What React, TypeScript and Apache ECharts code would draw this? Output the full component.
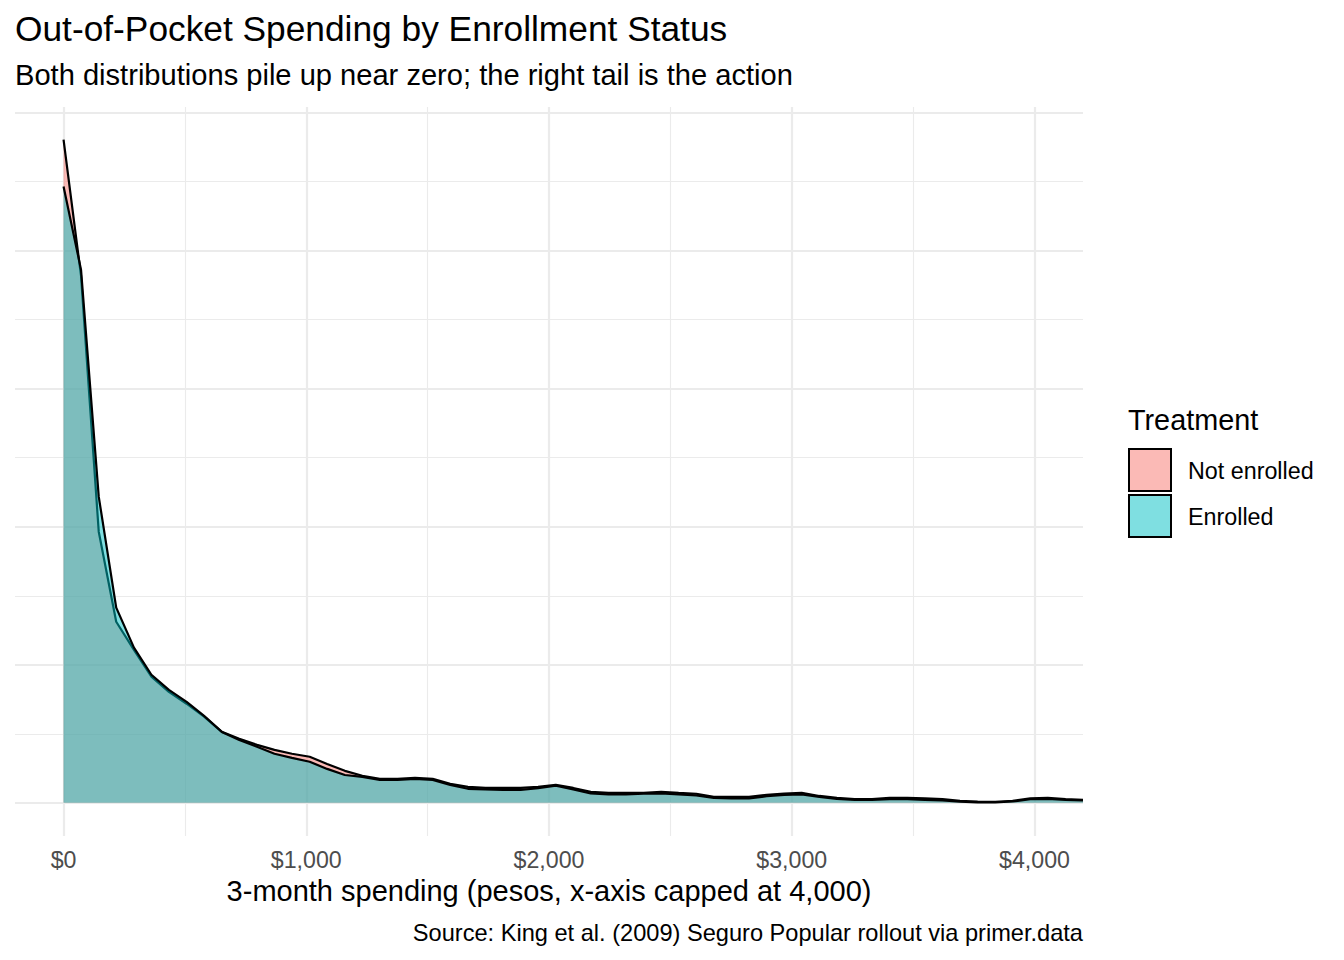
import React, { useEffect, useRef } from "react";
import * as echarts from "echarts";

// 3-month spending grid (pesos) at which the densities are drawn
const spending = [
  0, 72, 145, 217, 290, 362, 434, 507, 579, 652,
  724, 797, 869, 941, 1014, 1086, 1159, 1231, 1303, 1376,
  1448, 1521, 1593, 1666, 1738, 1810, 1883, 1955, 2028, 2100,
  2172, 2245, 2317, 2390, 2462, 2534, 2607, 2679, 2752, 2824,
  2897, 2969, 3041, 3114, 3186, 3259, 3331, 3403, 3476, 3548,
  3621, 3693, 3766, 3838, 3910, 3983, 4055, 4128, 4200,
];

// density values (x 1e-4)
const notEnrolled = [
  24.02, 19.09, 9.82, 6.56, 5.54, 4.57, 4.02, 3.59, 3.12, 2.57,
  2.32, 2.10, 1.92, 1.78, 1.67, 1.41, 1.16, 0.98, 0.87, 0.87,
  0.91, 0.87, 0.69, 0.58, 0.54, 0.54, 0.54, 0.58, 0.65, 0.54,
  0.40, 0.36, 0.36, 0.36, 0.40, 0.36, 0.33, 0.22, 0.22, 0.22,
  0.29, 0.34, 0.36, 0.25, 0.18, 0.14, 0.14, 0.18, 0.18, 0.16,
  0.14, 0.07, 0.05, 0.04, 0.07, 0.16, 0.18, 0.14, 0.11,
];

const enrolled = [
  22.32, 19.31, 11.09, 7.07, 5.62, 4.64, 4.09, 3.66, 3.15, 2.57,
  2.28, 2.03, 1.78, 1.63, 1.49, 1.23, 1.01, 0.94, 0.83, 0.83,
  0.87, 0.83, 0.65, 0.51, 0.49, 0.47, 0.47, 0.53, 0.62, 0.49,
  0.34, 0.31, 0.31, 0.33, 0.34, 0.31, 0.27, 0.18, 0.16, 0.16,
  0.24, 0.29, 0.31, 0.22, 0.14, 0.11, 0.11, 0.13, 0.13, 0.11,
  0.09, 0.04, 0.02, 0.02, 0.05, 0.13, 0.14, 0.11, 0.09,
];

const groups = ["Not enrolled", "Enrolled"];
const xMajor = [0, 1000, 2000, 3000, 4000];
const xMinor = [500, 1500, 2500, 3500];
const yMajor = [0, 5, 10, 15, 20, 25];
const yMinor = [2.5, 7.5, 12.5, 17.5, 22.5];

const FONT = '"Liberation Sans", Arial, Helvetica, sans-serif';
const GRID = "#EBEBEB";
const FILLS = ["rgba(248,118,109,0.5)", "rgba(0,191,196,0.5)"];

export default function App() {
  const ref = useRef<HTMLDivElement>(null);

  useEffect(() => {
    if (!ref.current) return;
    const chart = echarts.init(ref.current, undefined, { renderer: "svg" });

    const gridLines = [
      ...xMinor.map((v) => ({ xAxis: v, lineStyle: { color: GRID, width: 1.1, type: "solid" } })),
      ...yMinor.map((v) => ({ yAxis: v, lineStyle: { color: GRID, width: 1.1, type: "solid" } })),
      ...xMajor.map((v) => ({ xAxis: v, lineStyle: { color: GRID, width: 2.2, type: "solid" } })),
      ...yMajor.map((v) => ({ yAxis: v, lineStyle: { color: GRID, width: 2.2, type: "solid" } })),
    ];

    const makeSeries = (name: string, vals: number[], fill: string, z: number) => ({
      name,
      type: "line",
      data: spending.map((x, i) => [x, vals[i]]),
      showSymbol: false,
      symbol: "none",
      smooth: false,
      z,
      silent: true,
      emphasis: { disabled: true },
      lineStyle: { color: "#000000", width: 2.2 },
      areaStyle: { color: fill, opacity: 1 },
    });

    const text = (
      t: string, x: number, y: number, size: number,
      align: string = "left", fill: string = "#000000"
    ) => ({
      type: "text",
      x,
      y,
      silent: true,
      style: {
        text: t,
        fontSize: size,
        fontFamily: FONT,
        fill,
        align,
        verticalAlign: "middle",
      },
    });

    chart.setOption({
      animation: false,
      backgroundColor: "#ffffff",
      grid: { left: 15, right: 261, top: 107, bottom: 124, containLabel: false },
      xAxis: {
        type: "value",
        min: -200,
        max: 4200,
        interval: 200,
        axisLine: { show: false },
        axisTick: { show: false },
        splitLine: { show: false },
        axisLabel: {
          show: true,
          margin: 12,
          fontSize: 23.2,
          fontFamily: FONT,
          color: "#4D4D4D",
          formatter: (v: number) => {
            const r = Math.round(v);
            return xMajor.includes(r) ? "$" + r.toLocaleString("en-US") : "";
          },
        },
      },
      yAxis: {
        type: "value",
        min: -1.2,
        max: 25.2,
        axisLine: { show: false },
        axisTick: { show: false },
        axisLabel: { show: false },
        splitLine: { show: false },
      },
      series: [
        {
          name: "grid",
          type: "line",
          data: [[0, 0]],
          showSymbol: false,
          symbol: "none",
          lineStyle: { opacity: 0 },
          silent: true,
          z: 0,
          markLine: {
            z: 0,
            silent: true,
            animation: false,
            symbol: ["none", "none"],
            label: { show: false },
            emphasis: { disabled: true },
            data: gridLines,
          },
        },
        makeSeries(groups[0], notEnrolled, FILLS[0], 10),
        makeSeries(groups[1], enrolled, FILLS[1], 11),
      ],
      graphic: [
        text("Out-of-Pocket Spending by Enrollment Status", 15, 28, 35.3),
        text("Both distributions pile up near zero; the right tail is the action", 15, 75, 29.1),
        text("3-month spending (pesos, x-axis capped at 4,000)", 549, 891, 29, "center"),
        text("Source: King et al. (2009) Seguro Popular rollout via primer.data", 1083, 933, 23.6, "right"),
        text("Treatment", 1128, 420, 28.8),
        {
          type: "rect",
          shape: { x: 1129, y: 449, width: 42, height: 42 },
          style: { fill: FILLS[0], stroke: "#000000", lineWidth: 2 },
          silent: true,
        },
        {
          type: "rect",
          shape: { x: 1129, y: 495, width: 42, height: 42 },
          style: { fill: FILLS[1], stroke: "#000000", lineWidth: 2 },
          silent: true,
        },
        text(groups[0], 1188, 471, 23.3),
        text(groups[1], 1188, 517, 23.3),
      ],
    });

    return () => chart.dispose();
  }, []);

  return (
    <div
      ref={ref}
      style={{ position: "fixed", left: 0, top: 0, width: 1344, height: 960, background: "#fff" }}
    />
  );
}
